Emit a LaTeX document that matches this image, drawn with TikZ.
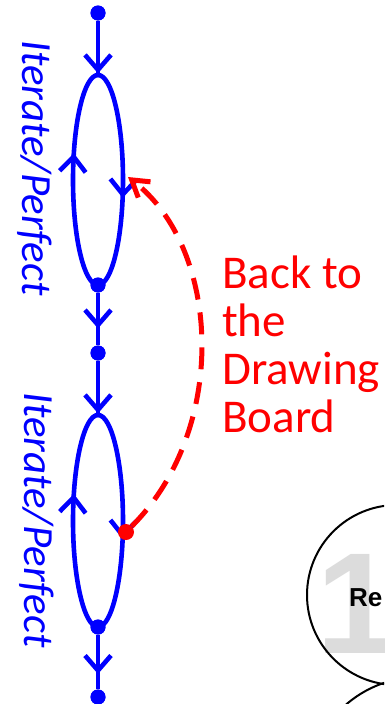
\documentclass[tikz,border=0pt]{standalone}
\usepackage{fontspec}
\newfontfamily\carlito{Carlito}
\newfontfamily\lsans{Liberation Sans}
\usetikzlibrary{arrows.meta,decorations.markings}
\definecolor{pblue}{RGB}{0,0,255}
\definecolor{pred}{RGB}{255,0,0}
\definecolor{lgray}{RGB}{220,220,220}
\begin{document}
\begin{tikzpicture}[x=1pt,y=-1pt,
  flow/.style={draw=pblue, line width=4.6pt},
  midarrow/.style={postaction={decorate}, decoration={markings,
     mark=at position #1 with {\arrow[pblue,line width=4.6pt]{Straight Barb[length=15pt,width=26pt]}}}},
  dot/.style={circle, fill=pblue, inner sep=0pt, minimum size=15pt},
  reddot/.style={circle, fill=pred, inner sep=0pt, minimum size=16pt},
  back/.style={draw=pred, line width=5pt, dash pattern=on 22pt off 13pt,
     -{Straight Barb[length=16pt,width=20pt,line width=5pt]}},
  itlabel/.style={text=pblue, font=\carlito\itshape\fontsize{43}{45}\selectfont, rotate=-90, anchor=base west, inner sep=0pt},
  redtext/.style={text=pred, font=\carlito\fontsize{47}{48}\selectfont, anchor=base west, inner sep=0pt},
  bubble/.style={draw=black, line width=2pt}
]
\useasboundingbox (0,0) rectangle (384,704);
\clip (0,0) rectangle (384,704);
\fill[white] (0,0) rectangle (384,704);

% coordinates
\coordinate (e1t) at (98,75);
\coordinate (e1r) at (123,180);
\coordinate (e1l) at (73,180);
\coordinate (e1b) at (98,285);
\coordinate (e2t) at (98,415);
\coordinate (e2r) at (123,521);
\coordinate (e2l) at (73,521);
\coordinate (e2b) at (98,627);
\coordinate (rtip) at (128,177);

% dots
\node[dot] (d1) at (98,13) {};
\node[dot] (d2) at (e1b) {};
\node[dot] (d3) at (98,353) {};
\node[dot] (d4) at (e2b) {};
\node[dot] (d5) at (98,697) {};

% connectors
\draw[flow, midarrow=0.97] (d1) -- (e1t);
\draw[flow, midarrow=0.58] (e1t) .. controls +(13.8,0) and +(0,-58) .. (e1r) .. controls +(0,58) and +(13.8,0) .. (e1b);
\draw[flow, midarrow=0.62] (e1b) .. controls +(-13.8,0) and +(0,58) .. (e1l) .. controls +(0,-58) and +(-13.8,0) .. (e1t);
\draw[flow, midarrow=0.68] (d2) -- (d3);
\draw[flow, midarrow=0.97] (d3) -- (e2t);
\draw[flow, midarrow=0.58] (e2t) .. controls +(13.8,0) and +(0,-58) .. (e2r) .. controls +(0,58) and +(13.8,0) .. (e2b);
\draw[flow, midarrow=0.62] (e2b) .. controls +(-13.8,0) and +(0,58) .. (e2l) .. controls +(0,-58) and +(-13.8,0) .. (e2t);
\draw[flow, midarrow=0.72] (d4) -- (d5);

% redraw dots on top
\node[dot] at (d1) {};
\node[dot] at (d2) {};
\node[dot] at (d3) {};
\node[dot] at (d4) {};
\node[dot] at (d5) {};

% red back arrow
\node[reddot] (rdot) at (126,532) {};
\draw[back] (rdot) .. controls (228,430) and (222,250) .. (rtip);

% labels
\node[itlabel] (lab1) at (22,40) {Iterate/Perfect};
\node[itlabel] (lab2) at (24,392) {Iterate/Perfect};
\node[redtext] (b1) at (222,288) {Back to};
\node[redtext] (b2) at (222,336) {the};
\node[redtext] (b3) at (222,384) {Drawing};
\node[redtext] (b4) at (222,432) {Board};

% bottom-right bubbles
\node[text=lgray, font=\lsans\bfseries\fontsize{144}{144}\selectfont, anchor=base, inner sep=0pt] (one) at (357,653) {1};
\draw[bubble] (397,595) circle[radius=90];
\draw[bubble] (420,790) circle[radius=113];
\node[font=\lsans\bfseries\fontsize{26}{26}\selectfont, anchor=base west, inner sep=0pt] (re) at (349,606) {Re};
\end{tikzpicture}
\end{document}
